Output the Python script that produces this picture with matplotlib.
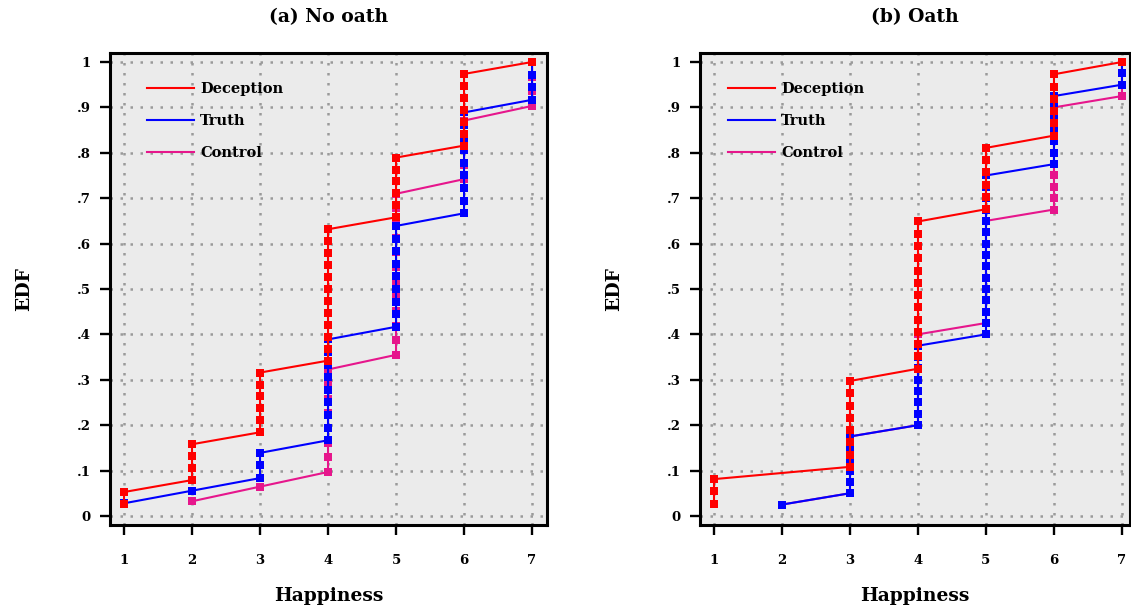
import numpy as np
import matplotlib
matplotlib.use("Agg")
import matplotlib.pyplot as plt
from matplotlib.lines import Line2D

# Happiness scale and counts of respondents at each level
levels = [1, 2, 3, 4, 5, 6, 7]
groups = ["Deception", "Truth", "Control"]
colors = {"Deception": "#FF0000", "Truth": "#0000FF", "Control": "#E6168C"}

noath_deception = [2, 4, 6, 12, 6, 7, 1]
noath_truth = [1, 1, 3, 9, 9, 9, 4]
noath_control = [0, 1, 1, 8, 12, 5, 4]

oath_deception = [3, 0, 8, 13, 6, 6, 1]
oath_truth = [0, 1, 6, 8, 15, 7, 3]
oath_control = [0, 1, 6, 9, 10, 10, 4]

panels = [
    ("(a) No oath", {"Deception": noath_deception, "Truth": noath_truth, "Control": noath_control}),
    ("(b) Oath", {"Deception": oath_deception, "Truth": oath_truth, "Control": oath_control}),
]

ytick_vals = [0, .1, .2, .3, .4, .5, .6, .7, .8, .9, 1]
ytick_labels = ["0", ".1", ".2", ".3", ".4", ".5", ".6", ".7", ".8", ".9", "1"]

FONT = "DejaVu Serif"
FW = "bold"

W, H = 1131, 609
fig = plt.figure(figsize=(W / 100, H / 100), dpi=100)

axes_px = [(110, 547, 0.794, 7.22, (37, 28)), (700, 1130, 0.794, 7.118, (28, 28))]
top_px, bot_px = 52.7, 525

for (title, data), (x0, x1, xl, xr, leg_off) in zip(panels, axes_px):
    ax = fig.add_axes([x0 / W, 1 - bot_px / H, (x1 - x0) / W, (bot_px - top_px) / H])
    ax.set_facecolor("#EBEBEB")
    ax.set_xlim(xl, xr)
    ax.set_ylim(-0.02, 1.0205)
    for s in ax.spines.values():
        s.set_linewidth(2.2)
        s.set_color("black")
    ax.set_xticks(levels)
    ax.set_xticklabels([str(v) for v in levels], fontfamily=FONT, fontweight=FW, fontsize=9.5)
    ax.set_yticks(ytick_vals)
    ax.set_yticklabels(ytick_labels, fontfamily=FONT, fontweight=FW, fontsize=9.5)
    ax.tick_params(axis="x", direction="out", length=7, width=1.7, pad=14)
    ax.tick_params(axis="y", direction="out", length=7, width=1.7, pad=7)
    ax.grid(True, color="#9A9A9A", linestyle=(0, (1, 3.0)), linewidth=1.8)
    ax.set_axisbelow(True)

    for g in ["Control", "Truth", "Deception"]:
        counts = data[g]
        n = sum(counts)
        xs = np.repeat(levels, counts)
        ys = np.arange(1, n + 1) / n
        ax.plot(xs, ys, color=colors[g], linewidth=1.5, marker="s", markersize=5.4,
                markeredgewidth=0, zorder=3)

    handles = [Line2D([0], [0], color=colors[g], linewidth=1.5) for g in groups]
    ax.legend(handles, groups, loc="upper left", frameon=False,
              bbox_to_anchor=(leg_off[0] / (x1 - x0), 1 - 29 / (bot_px - top_px)),
              borderaxespad=0, borderpad=0, handlelength=3.2, handletextpad=0.45,
              labelspacing=1.25, prop={"family": FONT, "weight": FW, "size": 10.5})

    ax.set_title(title, fontfamily=FONT, fontweight=FW, fontsize=13.5, pad=22)
    ax.set_xlabel("Happiness", fontfamily=FONT, fontweight=FW, fontsize=13.5, labelpad=14)
    ax.set_ylabel("EDF", fontfamily=FONT, fontweight=FW, fontsize=13.5, labelpad=31)

fig.savefig("out.png", dpi=100)
